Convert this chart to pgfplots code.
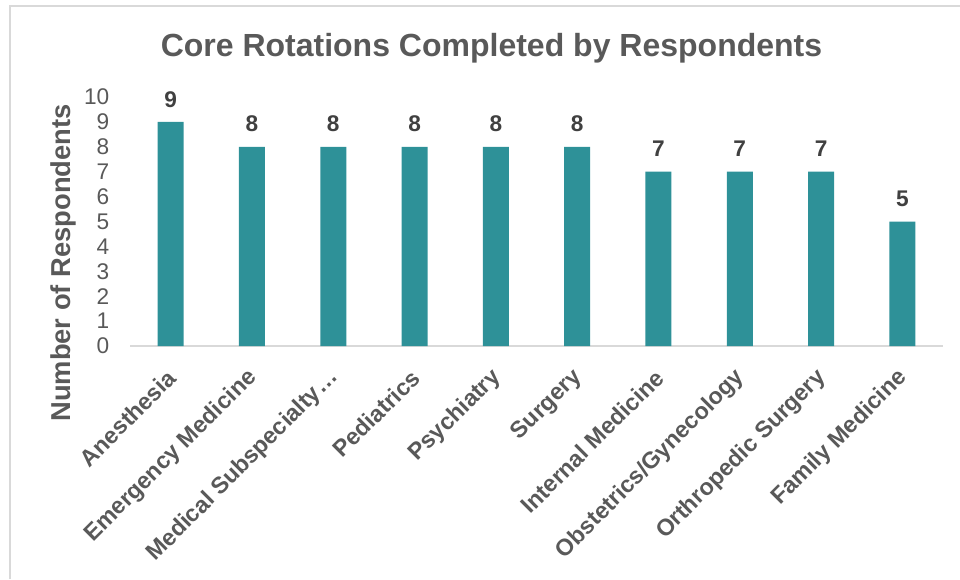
\documentclass[border=0pt]{standalone}
\usepackage{fontspec}
\setmainfont{Liberation Sans}
\usepackage{pgfplots}
\pgfplotsset{compat=1.18}
\definecolor{barteal}{RGB}{46,145,152}
\definecolor{txtgray}{RGB}{89,89,89}
\definecolor{lblgray}{RGB}{64,64,64}
\definecolor{linegray}{RGB}{217,217,217}
\begin{document}
\begin{tikzpicture}
\useasboundingbox (0,0) rectangle (720pt,434.25pt);
\draw[linegray,line width=1.5pt] (7.5pt,0) -- (7.5pt,429.75pt) -- (720pt,429.75pt);
\node[anchor=base,text=txtgray,font=\fontsize{24}{28}\selectfont\bfseries] at (368.6pt,391.5pt) {Core Rotations Completed by Respondents};
\node[rotate=90,text=txtgray,font=\fontsize{20.5}{24}\selectfont\bfseries] at (47.25pt,237pt) {Number of Respondents};
\begin{axis}[
  at={(97.5pt,174.75pt)}, anchor=south west,
  scale only axis, width=609.75pt, height=186.75pt,
  ybar, bar width=19.5pt,
  xmin=-0.5, xmax=9.5, ymin=0, ymax=10,
  ytick={0,1,...,10},
  xtick=data,
  xticklabels={Anesthesia,Emergency Medicine,Medical Subspecialty…,Pediatrics,Psychiatry,Surgery,Internal Medicine,Obstetrics/Gynecology,Orthropedic Surgery,Family Medicine},
  axis x line*=bottom, axis y line*=left,
  x axis line style={linegray,line width=1.5pt},
  y axis line style={draw=none},
  major tick length=0pt,
  clip=false,
  /pgf/number format/assume math mode=true,
  yticklabel style={text=txtgray,font=\fontsize{17}{19}\selectfont,xshift=-12pt},
  xticklabel style={yshift=-21pt,xshift=1pt,rotate=45,anchor=east,inner sep=0pt,text=txtgray,font=\fontsize{17.5}{19}\selectfont\bfseries},
  nodes near coords,
  every node near coord/.append style={anchor=center,yshift=17pt,text=lblgray,font=\fontsize{17}{19}\selectfont\bfseries},
]
\addplot[fill=barteal,draw=none] coordinates {(0,9) (1,8) (2,8) (3,8) (4,8) (5,8) (6,7) (7,7) (8,7) (9,5)};
\end{axis}
\end{tikzpicture}
\end{document}
